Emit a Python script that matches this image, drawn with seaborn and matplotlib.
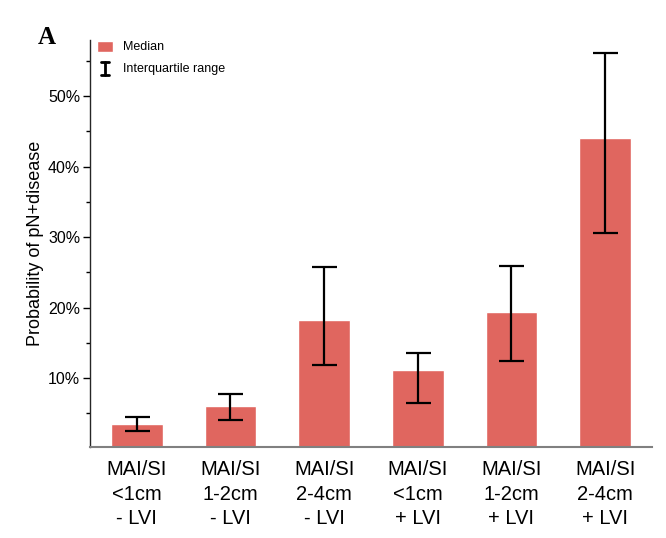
import numpy as np
import pandas as pd
import matplotlib
matplotlib.use("Agg")
import matplotlib.pyplot as plt
import seaborn as sns
from matplotlib.lines import Line2D
from matplotlib.legend_handler import HandlerBase
from matplotlib.ticker import MultipleLocator, PercentFormatter

# valeurs (en %)
categories = ["MAI/SI\n<1cm\n- LVI", "MAI/SI\n1-2cm\n- LVI", "MAI/SI\n2-4cm\n- LVI",
              "MAI/SI\n<1cm\n+ LVI", "MAI/SI\n1-2cm\n+ LVI", "MAI/SI\n2-4cm\n+ LVI"]
median = [3.5, 6.1, 18.3, 11.2, 19.4, 44.1]
q1 = [2.5, 4.0, 11.9, 6.5, 12.4, 30.6]
q3 = [4.5, 7.7, 25.8, 13.6, 25.9, 56.1]

bar_color = "#E0665F"

sns.set_style("ticks")
plt.rcParams["font.family"] = ["Liberation Sans", "DejaVu Sans"]
for k in ["text.color", "axes.labelcolor", "xtick.color", "ytick.color"]:
    plt.rcParams[k] = "black"


# petit symbole "I" pour la légende de l'intervalle
class HandlerI(HandlerBase):
    def create_artists(self, legend, orig_handle, xdescent, ydescent,
                       width, height, fontsize, trans):
        cx = width / 2 - xdescent
        h = height * 1.2
        y0 = (height - h) / 2 - ydescent
        c = 2.8
        lines = [Line2D([cx, cx], [y0, y0 + h]),
                 Line2D([cx - c, cx + c], [y0, y0]),
                 Line2D([cx - c, cx + c], [y0 + h, y0 + h])]
        for ln in lines:
            ln.set_color("black")
            ln.set_linewidth(2)
            ln.set_transform(trans)
        return lines


df = pd.DataFrame({"group": categories, "median": median})

fig = plt.figure(figsize=(6.66, 5.38), dpi=100)
ax = fig.add_axes([0.135, 0.170, 0.844, 0.756])

sns.barplot(data=df, x="group", y="median", color=bar_color, saturation=1,
            width=0.55, errorbar=None, label="Median", ax=ax)

pos = np.arange(len(categories))
med = np.array(median)
yerr = np.vstack([med - np.array(q1), np.array(q3) - med])
eb = ax.errorbar(pos, med, yerr=yerr, fmt="none", ecolor="black", elinewidth=1.6,
                 capsize=9, capthick=1.6, label="Interquartile range")

ax.set_xlim(-0.5, 5.5)
ax.set_ylim(0.3, 58)
ax.yaxis.set_minor_locator(MultipleLocator(5))
ax.yaxis.set_major_formatter(PercentFormatter(decimals=0))
ax.set_yticks([10, 20, 30, 40, 50])

ax.set_xlabel("")
ax.set_ylabel("Probability of pN+disease", fontsize=13, labelpad=3)
ax.tick_params(axis="y", labelsize=11.5, length=5, width=1, pad=2)
ax.tick_params(axis="y", which="minor", length=3, width=1)
ax.tick_params(axis="x", length=0, labelsize=14.5, pad=10)
for lab in ax.get_xticklabels():
    lab.set_linespacing(1.35)

sns.despine(ax=ax)
ax.spines["left"].set_linewidth(1)
ax.spines["bottom"].set_color("#808080")
ax.spines["bottom"].set_linewidth(1.5)

handles, labels = ax.get_legend_handles_labels()
ax.legend(handles, labels, loc="upper left", frameon=False, fontsize=9,
          handlelength=1.3, handleheight=0.95, borderaxespad=0.0,
          labelspacing=0.75, handletextpad=0.8,
          bbox_to_anchor=(0.004, 1.01), handler_map={type(eb): HandlerI()})

fig.text(0.057, 0.918, "A", fontsize=18, fontweight="bold",
         family=["Liberation Serif", "DejaVu Serif"])

fig.savefig("out.png", dpi=100)
